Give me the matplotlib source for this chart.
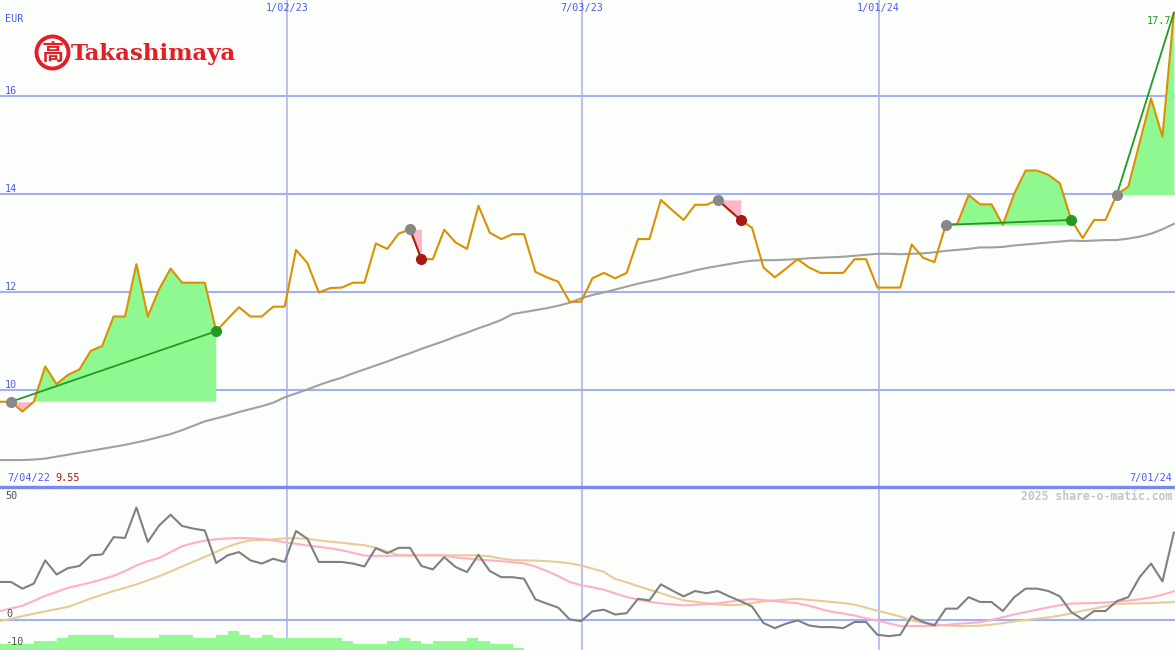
import numpy as np
import matplotlib
matplotlib.use("Agg")
import matplotlib.pyplot as plt
from matplotlib.patches import Ellipse

W, H = 1175, 650

# weekly close in EUR, 7/04/22 .. 7/01/24
price = [9.76, 9.76, 9.56, 9.76, 10.48, 10.12, 10.31, 10.42, 10.80, 10.90,
         11.50, 11.50, 12.57, 11.50, 12.06, 12.48, 12.19, 12.19, 12.19, 11.20,
         11.45, 11.69, 11.50, 11.50, 11.70, 11.70, 12.86, 12.59, 11.99, 12.08,
         12.09, 12.19, 12.19, 12.99, 12.88, 13.19, 13.28, 12.67, 12.67, 13.27,
         13.01, 12.88, 13.76, 13.21, 13.08, 13.18, 13.18, 12.41, 12.30, 12.21,
         11.80, 11.80, 12.28, 12.39, 12.28, 12.39, 13.08, 13.08, 13.88, 13.67,
         13.47, 13.78, 13.78, 13.88, 13.67, 13.47, 13.31, 12.50, 12.30, 12.48,
         12.67, 12.50, 12.39, 12.39, 12.39, 12.67, 12.67, 12.09, 12.09, 12.09,
         12.97, 12.70, 12.61, 13.37, 13.39, 13.98, 13.79, 13.79, 13.37, 14.01,
         14.48, 14.48, 14.39, 14.22, 13.47, 13.10, 13.47, 13.47, 13.99, 14.15,
         15.05, 15.95, 15.17, 17.70]

# long moving average (grey)
moving_avg = [8.57, 8.57, 8.57, 8.58, 8.60, 8.64, 8.68, 8.72, 8.76, 8.80,
              8.84, 8.88, 8.93, 8.98, 9.04, 9.10, 9.18, 9.27, 9.36, 9.42,
              9.48, 9.55, 9.61, 9.67, 9.74, 9.85, 9.93, 10.01, 10.10, 10.18,
              10.25, 10.34, 10.42, 10.50, 10.58, 10.67, 10.75, 10.84, 10.92, 11.00,
              11.09, 11.17, 11.26, 11.34, 11.43, 11.55, 11.59, 11.63, 11.67, 11.72,
              11.78, 11.87, 11.94, 11.99, 12.05, 12.11, 12.17, 12.22, 12.27, 12.33,
              12.38, 12.44, 12.49, 12.53, 12.57, 12.61, 12.64, 12.65, 12.65, 12.66,
              12.67, 12.69, 12.70, 12.71, 12.72, 12.74, 12.76, 12.78, 12.78, 12.77,
              12.78, 12.79, 12.81, 12.84, 12.86, 12.88, 12.91, 12.91, 12.92, 12.95,
              12.97, 12.99, 13.01, 13.03, 13.05, 13.04, 13.05, 13.06, 13.06, 13.09,
              13.13, 13.19, 13.28, 13.39]

# lower panel: momentum (dark grey) and its two smoothings
momentum = [14.4, 14.4, 11.9, 13.8, 22.5, 17.2, 19.6, 20.4, 24.4, 24.7,
            31.2, 30.9, 42.3, 29.4, 35.6, 39.6, 35.4, 34.4, 33.7, 21.5,
            24.4, 25.6, 22.5, 21.3, 23.1, 21.9, 33.5, 30.6, 21.9, 21.9,
            21.9, 21.3, 20.2, 27.1, 25.2, 27.2, 27.2, 20.4, 19.1, 23.7,
            20.0, 18.1, 24.6, 18.5, 16.2, 16.2, 15.6, 7.9, 6.3, 4.8,
            0.4, -0.3, 3.4, 4.0, 2.2, 2.7, 8.1, 7.5, 13.5, 11.2,
            9.0, 11.0, 10.2, 11.0, 9.0, 7.2, 5.2, -1.0, -2.9, -1.2,
            0.0, -1.9, -2.5, -2.5, -2.9, -0.6, -0.6, -5.4, -5.9, -5.4,
            1.6, -0.6, -1.9, 4.4, 4.4, 8.7, 6.9, 6.9, 3.5, 8.7,
            11.9, 11.9, 11.0, 9.0, 3.1, 0.4, 3.5, 3.5, 7.2, 8.7,
            16.2, 21.3, 14.6, 32.9]

mom_fast = [3.5, 4.5, 5.5, 7.3, 9.2, 10.7, 12.2, 13.2, 14.2, 15.4,
            16.7, 18.5, 20.6, 22.2, 23.4, 25.6, 27.8, 29.0, 29.9, 30.4,
            30.7, 30.9, 30.8, 30.5, 30.0, 29.3, 28.7, 28.1, 27.6, 27.0,
            26.3, 25.3, 24.3, 24.2, 24.2, 24.3, 24.3, 24.4, 24.4, 24.3,
            23.6, 23.2, 22.8, 22.5, 22.2, 21.8, 21.4, 20.2, 18.5, 16.6,
            14.4, 13.2, 12.4, 11.5, 10.1, 8.8, 7.8, 7.0, 6.4, 6.0,
            5.6, 5.8, 6.1, 6.4, 7.0, 7.6, 8.0, 7.6, 7.2, 6.8,
            6.4, 5.5, 4.3, 3.2, 2.6, 1.8, 0.8, -0.1, -1.1, -2.1,
            -2.1, -2.1, -2.0, -1.7, -1.3, -1.0, -0.7, 0.2, 1.2, 2.2,
            3.1, 4.0, 4.9, 5.7, 6.3, 6.4, 6.5, 6.7, 7.0, 7.4,
            7.9, 8.6, 9.6, 10.9]

mom_slow = [-0.3, 0.6, 1.6, 2.5, 3.4, 4.2, 5.1, 6.6, 8.2, 9.6,
            11.0, 12.2, 13.5, 15.0, 16.6, 18.3, 20.2, 22.0, 23.8, 25.7,
            27.6, 29.0, 30.0, 30.1, 30.4, 30.8, 30.8, 30.6, 30.0, 29.5,
            29.1, 28.6, 28.2, 27.2, 25.8, 24.5, 24.4, 24.4, 24.4, 24.4,
            24.4, 24.4, 24.4, 24.0, 23.2, 22.6, 22.5, 22.4, 22.2, 21.9,
            21.4, 20.6, 19.4, 18.2, 15.5, 14.3, 12.8, 11.5, 10.2, 8.8,
            7.5, 7.0, 6.4, 6.0, 5.7, 5.9, 6.5, 7.1, 7.5, 7.8,
            8.1, 7.7, 7.3, 6.9, 6.5, 5.9, 4.8, 3.6, 2.6, 1.4,
            0.0, -0.9, -1.4, -1.9, -2.1, -2.1, -2.0, -1.6, -1.0, -0.4,
            0.1, 0.7, 1.1, 1.8, 2.6, 3.6, 4.4, 5.3, 6.2, 6.3,
            6.4, 6.5, 6.7, 6.9]

# green histogram at the bottom (top value of each weekly bar)
hist_tops = [-9.0, -9.0, -9.0, -7.9, -7.9, -6.6, -5.6, -5.6, -5.6, -5.6,
             -6.6, -6.6, -6.6, -6.6, -5.6, -5.6, -5.6, -6.6, -6.6, -5.6,
             -4.1, -5.6, -6.6, -5.6, -6.6, -6.6, -6.6, -6.6, -6.6, -6.6,
             -7.9, -8.9, -8.9, -8.9, -7.9, -6.6, -7.9, -9.0, -7.9, -7.9,
             -7.9, -6.6, -7.9, -9.0, -9.0, -10.2]

# trend segments (week index of start and end)
seg_start = [1, 36, 63, 83, 98]
seg_end = [19, 37, 65, 94, 103]
seg_open = [False, False, False, False, True]

price_levels = [10, 12, 14, 16]
date_labels = ["1/02/23", "7/03/23", "1/01/24"]
date_pos = [25.2, 51.1, 77.1]
first_date, last_date = "7/04/22", "7/01/24"
low_text, last_text = "9.55", "17.7"

BG = "#fcfefc"
GRID = "#a4b0f4"
BLUE_TXT = "#4c5cf0"
ORANGE = "#dc9000"
GREEN_FILL = "#90f890"
PINK_FILL = "#ffb6c8"
GREEN = "#229a22"
DARK_RED = "#a81818"
LOGO_RED = "#e41e26"

x = np.arange(len(price))
p = np.array(price)

fig = plt.figure(figsize=(W / 100, H / 100), dpi=100, facecolor=BG)
split = 487
ax = fig.add_axes([0, 1 - split / H, 1, split / H])
ax2 = fig.add_axes([0, 0, 1, 1 - split / H])
for a in (ax, ax2):
    a.set_facecolor(BG)
    a.set_xlim(0.035, 103.1)
    a.set_axis_off()
ax.set_ylim(8.02, 17.96)
ax2.set_ylim(-11.1, 50)

# grid
for lv in price_levels:
    ax.axhline(lv, color=GRID, lw=1.5, zorder=1)
for xp in date_pos:
    ax.axvline(xp, color=GRID, lw=1.1, zorder=1)
    ax2.axvline(xp, color=GRID, lw=1.1, zorder=1)
ax2.axhline(0, color=GRID, lw=1.5, zorder=1)
ax2.axhline(50, color="#7888ec", lw=2.4, zorder=5, clip_on=False)

# trend segments: fill against the starting level
for s, e, op in zip(seg_start, seg_end, seg_open):
    xs = x[s:e + 1]
    ys = p[s:e + 1]
    base = p[s]
    ax.fill_between(xs, ys, base, where=ys >= base, interpolate=True,
                    color=GREEN_FILL, lw=0, zorder=2)
    ax.fill_between(xs, ys, base, where=ys <= base, interpolate=True,
                    color=PINK_FILL, lw=0, zorder=2)

ax.plot(x, moving_avg, color="#a0a0a0", lw=1.5, zorder=3)
ax.plot(x, price, color=ORANGE, lw=1.5, zorder=4)

for s, e, op in zip(seg_start, seg_end, seg_open):
    up = p[e] >= p[s]
    c = GREEN if up else DARK_RED
    ax.plot([s, e], [p[s], p[e]], color=c, lw=1.3, zorder=5)
    ax.plot(s, p[s], "o", ms=8, color="#888888", mec="none", zorder=6)
    if not op:
        ax.plot(e, p[e], "o", ms=8, color=GREEN if up else DARK_RED, mec="none", zorder=6)

# lower panel
ax2.bar(np.arange(len(hist_tops)), np.array(hist_tops) + 12, bottom=-12,
        width=1, align="edge", color="#94f894", lw=0, zorder=2)
ax2.plot(x, mom_slow, color="#e8cc98", lw=1.5, zorder=3)
ax2.plot(x, mom_fast, color="#ffb0c4", lw=1.5, zorder=3)
ax2.plot(x, momentum, color="#808080", lw=1.5, zorder=4)


def ptext(px, py, s, **kw):
    kw.setdefault("va", "center")
    kw.setdefault("family", "DejaVu Sans Mono")
    kw.setdefault("fontsize", 7.3)
    fig.text(px / W, 1 - py / H, s, **kw)


ptext(5, 19, "EUR", color=BLUE_TXT)
for lv in price_levels:
    py = 96 + (16 - lv) * 49 - 5
    ptext(5, py, f"{lv}", color=BLUE_TXT)
for lab, xp in zip(date_labels, date_pos):
    px = (xp - 0.035) / (103.1 - 0.035) * W
    ptext(px, 8, lab, color=BLUE_TXT, ha="center")
ptext(7, 478, first_date, color=BLUE_TXT)
ptext(55, 478, low_text, color=DARK_RED)
ptext(1172, 478, last_date, color=BLUE_TXT, ha="right")
ptext(1147, 21, last_text, color=GREEN)
ptext(1172, 496, "2025 share-o-matic.com", color="#c4c4c4", ha="right",
      fontsize=8.3, weight="bold")
ptext(5, 496, "50", color="#505050")
ptext(6, 614, "0", color="#505050")
ptext(5, 642, "-10", color="#505050")

# logo
logo = Ellipse((52.5 / W, 1 - 52.5 / H), 32 / W, 32 / H, transform=fig.transFigure,
               facecolor="white", edgecolor=LOGO_RED, lw=2.8, zorder=10)
fig.patches.append(logo)
ptext(52.5, 53, "高", color=LOGO_RED, ha="center", fontsize=16,
      family=["Noto Sans CJK JP"], weight="bold", zorder=11)
ptext(71, 54, "Takashimaya", color=LOGO_RED, fontsize=16.5,
      family="DejaVu Serif", weight="bold")

fig.savefig("out.png", dpi=100, facecolor=BG)
